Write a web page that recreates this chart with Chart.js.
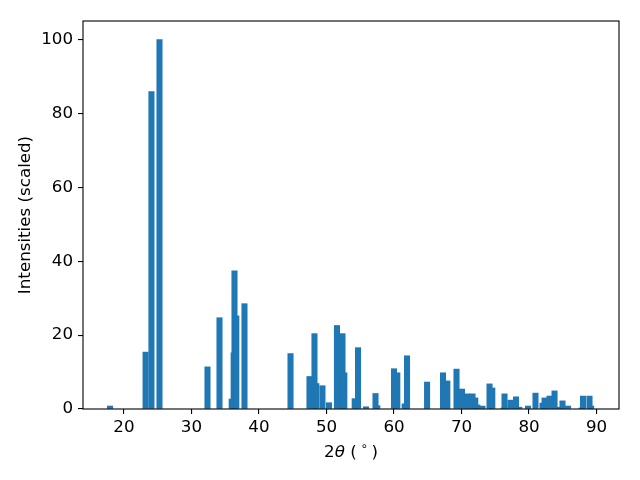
<!DOCTYPE html>
<html>
<head>
<meta charset="utf-8">
<script src="https://cdn.jsdelivr.net/npm/chart.js@4.4.1/dist/chart.umd.min.js"></script>
<style>
html,body{margin:0;padding:0;background:#fff;}
#wrap{width:640px;height:480px;}
</style>
</head>
<body>
<div id="wrap"><canvas id="c" width="640" height="480"></canvas></div>
<script>
// 2θ positions (degrees) of the peaks
const twoTheta = [17.93, 23.2, 24.07, 25.26, 32.37, 34.15, 35.96, 36.25, 36.37, 36.64, 37.85,
  44.67, 47.48, 48.22, 48.49, 49.4, 50.37, 51.55, 52.37, 52.64, 54.18, 54.67, 55.85, 57.26, 57.53,
  60.0, 60.49, 61.58, 61.93, 64.9, 67.26, 67.9, 69.26, 70.07, 70.89, 71.63, 72.04, 72.34, 73.1,
  74.15, 74.56, 76.25, 76.37, 76.5, 77.26, 78.07, 78.56, 79.85, 80.96, 82.0, 82.3, 83.04, 83.78,
  84.4, 84.96, 85.78, 87.8, 88.0, 88.96, 89.2];
// scaled intensities
const intensity = [0.8, 15.4, 85.9, 100, 11.4, 24.7, 2.7, 15.2, 37.4, 25.2, 28.5,
  15.0, 8.8, 20.4, 6.9, 6.3, 1.7, 22.6, 20.4, 9.8, 2.8, 16.6, 0.6, 4.2, 0.9,
  10.9, 9.8, 1.4, 14.4, 7.3, 9.8, 7.6, 10.8, 5.4, 4.1, 4.1, 3.0, 1.1, 0.8,
  6.8, 5.7, 0.3, 4.1, 0.3, 2.4, 3.3, 0.5, 0.8, 4.3, 1.6, 3.0, 3.5, 4.9,
  0.5, 2.2, 0.8, 0.3, 3.5, 3.5, 0.8];
const xTicks = [20, 30, 40, 50, 60, 70, 80, 90];
const yTicks = [0, 20, 40, 60, 80, 100];
const yLabel = 'Intensities (scaled)';

const FONT = 'DejaVu Sans';
const FS = 16.7;
const barWidthDeg = 0.8;

const points = twoTheta.map((x, i) => ({x: x, y: intensity[i]}));

const framePlugin = {
  id: 'frame',
  afterDraw(chart) {
    const {ctx, chartArea: a} = chart;
    ctx.save();
    ctx.strokeStyle = '#000';
    ctx.lineWidth = 1.1;
    ctx.strokeRect(a.left, a.top, a.right - a.left, a.bottom - a.top);
    // x-axis title: 2θ (°) with italic theta and superscript circle
    const parts = [
      {t: '2', f: FS + 'px "' + FONT + '"', dy: 0},
      {t: 'θ', f: 'italic ' + FS + 'px "' + FONT + '"', dy: 0},
      {t: ' (', f: FS + 'px "' + FONT + '"', dy: 0},
      {t: ' ∘ ', f: (FS * 0.7) + 'px "' + FONT + '"', dy: -6},
      {t: ')', f: FS + 'px "' + FONT + '"', dy: 0}
    ];
    let total = 0;
    parts.forEach(p => { ctx.font = p.f; p.w = ctx.measureText(p.t).width; total += p.w; });
    let x = (a.left + a.right) / 2 - total / 2;
    const y = 453;
    ctx.fillStyle = '#000';
    ctx.textBaseline = 'middle';
    ctx.textAlign = 'left';
    parts.forEach(p => { ctx.font = p.f; ctx.fillText(p.t, x, y + p.dy); x += p.w; });
    ctx.restore();
  }
};

new Chart(document.getElementById('c'), {
  type: 'bar',
  data: {
    datasets: [{
      data: points,
      backgroundColor: '#1f77b4',
      borderWidth: 0,
      barThickness: barWidthDeg * 6.75
    }]
  },
  options: {
    responsive: false,
    animation: false,
    events: [],
    layout: {padding: {top: 21, right: 21, left: 0, bottom: 0}},
    plugins: {legend: {display: false}, tooltip: {enabled: false}},
    scales: {
      x: {
        type: 'linear',
        min: 13.93,
        max: 93.33,
        offset: false,
        afterBuildTicks: s => { s.ticks = xTicks.map(v => ({value: v})); },
        afterFit: s => { s.height = 71; },
        grid: {display: true, offset: false, drawOnChartArea: false, drawTicks: true, tickLength: 5, color: '#000', lineWidth: 1.1},
        border: {display: false},
        ticks: {color: '#000', font: {family: FONT, size: FS}, padding: 4, maxRotation: 0, autoSkip: false}
      },
      y: {
        min: 0,
        max: 105,
        afterBuildTicks: s => { s.ticks = yTicks.map(v => ({value: v})); },
        afterFit: s => { s.width = 83; },
        grid: {display: true, offset: false, drawOnChartArea: false, drawTicks: true, tickLength: 5, color: '#000', lineWidth: 1.1},
        border: {display: false},
        ticks: {color: '#000', font: {family: FONT, size: FS}, padding: 5},
        title: {display: true, text: yLabel, color: '#000', font: {family: FONT, size: FS}, padding: {top: 16, bottom: 0}}
      }
    }
  },
  plugins: [framePlugin]
});
</script>
</body>
</html>
